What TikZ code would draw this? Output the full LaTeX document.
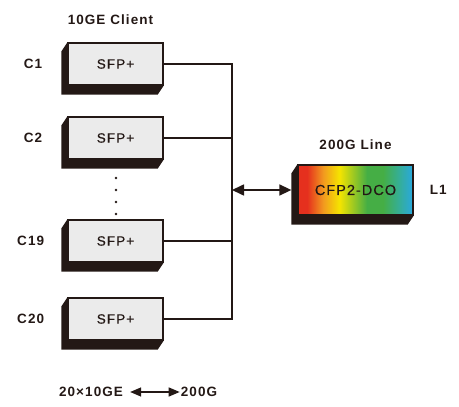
\documentclass[tikz,border=0pt]{standalone}
\usepackage{fontspec}
\setmainfont{Liberation Sans}
\usetikzlibrary{positioning,calc,arrows.meta,backgrounds}

\definecolor{ink}{HTML}{231815}
\definecolor{face}{HTML}{EBEBEB}
\definecolor{rbred}{HTML}{E5301E}
\definecolor{rborange}{HTML}{F29A1F}
\definecolor{rbyellow}{HTML}{F5E400}
\definecolor{rbgreen}{HTML}{45AE45}
\definecolor{rbteal}{HTML}{35AE98}
\definecolor{rbblue}{HTML}{29A8E0}
\pgfdeclarehorizontalshading{rainbow}{100bp}{color(0bp)=(rbred); color(25bp)=(rbred);
  color(29bp)=(rbred); color(36bp)=(rborange); color(43bp)=(rbyellow);
  color(55bp)=(rbgreen); color(62bp)=(rbgreen); color(69bp)=(rbteal);
  color(75bp)=(rbblue); color(100bp)=(rbblue)}

\tikzset{
  lbl/.style={text=ink, inner sep=0pt, font=\fontsize{13.5}{15}\selectfont\bfseries\addfontfeatures{LetterSpace=8}},
  sfpbox/.style={draw=ink, line width=1.3pt, fill=face, minimum width=95pt, minimum height=42pt,
    inner sep=0pt, text=ink, font=\fontsize{13.5}{15}\selectfont\addfontfeatures{LetterSpace=8,FakeBold=0.4}},
  cfpbox/.style={draw=ink, line width=1.3pt, shading=rainbow, minimum width=115pt, minimum height=50pt,
    inner sep=0pt, text=ink, font=\fontsize{14.5}{16}\selectfont\addfontfeatures{LetterSpace=7,FakeBold=0.3}},
  wire/.style={draw=ink, line width=1.4pt},
  dblarrow/.style={draw=ink, line width=1.6pt, {Triangle[length=12pt,width=11pt]}-{Triangle[length=12pt,width=11pt]}},
}

\begin{document}
\begin{tikzpicture}[x=1pt,y=-1pt]
  \useasboundingbox (0,0) rectangle (459,407);

  % client side modules
  \node[sfpbox] (c1)  at (115.5,64)  {SFP+};
  \node[sfpbox] (c2)  at (115.5,138) {SFP+};
  \node[sfpbox] (c19) at (115.5,241) {SFP+};
  \node[sfpbox] (c20) at (115.5,319) {SFP+};

  \node[lbl, left=25pt of c1]  {C1};
  \node[lbl, left=25pt of c2]  {C2};
  \node[lbl, left=23pt of c19] {C19};
  \node[lbl, left=23pt of c20] {C20};
  \node[lbl, above=18pt of c1, xshift=-5pt] {10GE Client};

  \foreach \y in {178,190,202,214}
    \fill[ink] (116,\y) circle (1.4);

  % line side module
  \node[cfpbox] (cfp) at (355.5,190) {CFP2-DCO};
  \node[lbl, above=15pt of cfp] {200G Line};
  \node[lbl, right=16pt of cfp] {L1};

  % extruded sides
  \begin{scope}[on background layer]
    \foreach \n in {c1,c2,c19,c20,cfp}
      \fill[ink] (\n.north west) -- (\n.north east) -- (\n.south east)
        -- ++(-6,9) -- ($(\n.south west)+(-6,9)$) -- ($(\n.north west)+(-6,9)$) -- cycle;
  \end{scope}

  % bus
  \coordinate (bus) at (232,190);
  \draw[wire] (c1.east) -- (c1.east -| bus) -- (c20.east -| bus) -- (c20.east);
  \draw[wire] (c2.east) -- (c2.east -| bus);
  \draw[wire] (c19.east) -- (c19.east -| bus);
  \coordinate (cfpin) at ($(cfp.west)+(-6,0)$);
  \draw[dblarrow] (bus) -- (cfpin);

  % legend
  \node[lbl] (agg) at (91,392) {20×10GE};
  \node[lbl] (rate) at (199,392) {200G};
  \draw[dblarrow, line width=1.4pt, {Triangle[length=11pt,width=9pt]}-{Triangle[length=11pt,width=9pt]}]
    ($(agg.east)+(7,0)$) -- ($(rate.west)+(-1,0)$);
\end{tikzpicture}
\end{document}
